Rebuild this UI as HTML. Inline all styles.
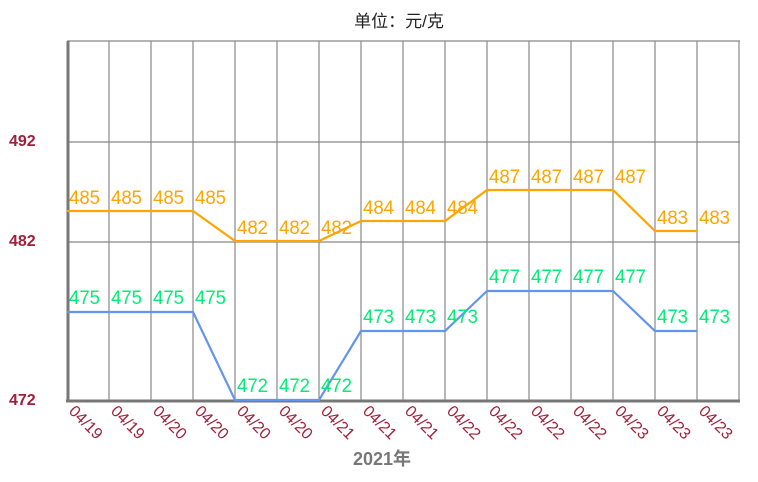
<!DOCTYPE html>
<html><head><meta charset="utf-8"><style>
body{margin:0;background:#fff;}
svg{display:block;font-family:"Liberation Sans","Noto Sans CJK SC",sans-serif;}
</style></head><body>
<svg width="758" height="482" xmlns="http://www.w3.org/2000/svg">
<text x="399" y="27" font-size="17" text-anchor="middle" fill="#222">单位：元/克</text>
<g stroke="#888" stroke-width="1.2">
<line x1="67" y1="41" x2="740" y2="41"/>
<line x1="67" y1="142" x2="740" y2="142"/>
<line x1="67" y1="242" x2="740" y2="242"/>
<line x1="739" y1="41" x2="739" y2="401"/>
</g>
<line x1="68" y1="41" x2="68" y2="402" stroke="#777" stroke-width="3"/>
<line x1="66" y1="401" x2="740" y2="401" stroke="#777" stroke-width="3"/>
<g font-size="16" font-weight="bold" fill="#a0203a">
<text x="9" y="146">492</text><text x="9" y="246">482</text><text x="9" y="405">472</text>
</g>
<text x="353" y="465" font-size="18" font-weight="bold" fill="#777">2021年</text>
</svg>
<script>
var ns="http://www.w3.org/2000/svg",s=document.querySelector('svg');
function el(t,a,txt){var e=document.createElementNS(ns,t);for(var k in a)e.setAttribute(k,a[k]);if(txt)e.textContent=txt;s.appendChild(e);return e;}
for(var i=1;i<16;i++)el('line',{x1:67+42*i,y1:41,x2:67+42*i,y2:400,stroke:'#888','stroke-width':1.2});
var ov=[485,485,485,485,482,482,482,484,484,484,487,487,487,487,483,483];
var oy={485:211,482:241,484:221,487:190,483:231};
var bv=[475,475,475,475,472,472,472,473,473,473,477,477,477,477,473,473];
var by={475:312,472:400,473:331,477:291};
var lb=['04/19','04/19','04/20','04/20','04/20','04/20','04/21','04/21','04/21','04/22','04/22','04/22','04/22','04/23','04/23','04/23'];
var po=[],pb=[];
for(var i=0;i<16;i++){var x=67+42*i;po.push(x+','+oy[ov[i]]);pb.push(x+','+by[bv[i]]);}
el('polyline',{points:po.join(' '),fill:'none',stroke:'#ffa500','stroke-width':2.2});
el('polyline',{points:pb.join(' '),fill:'none',stroke:'#6495ed','stroke-width':2.2});
for(var i=0;i<16;i++){var x=67+42*i;
el('text',{x:x+2,y:oy[ov[i]]-7,'font-size':19,fill:'#ffa500',textLength:31,lengthAdjust:'spacingAndGlyphs'},''+ov[i]);
el('text',{x:x+2,y:by[bv[i]]-8,'font-size':19,fill:'#00ee76',textLength:31,lengthAdjust:'spacingAndGlyphs'},''+bv[i]);
el('text',{x:0,y:0,'font-size':16,fill:'#a0203a',transform:'translate('+(x+1)+',412) rotate(45)'},lb[i]);}
</script>
</body></html>
